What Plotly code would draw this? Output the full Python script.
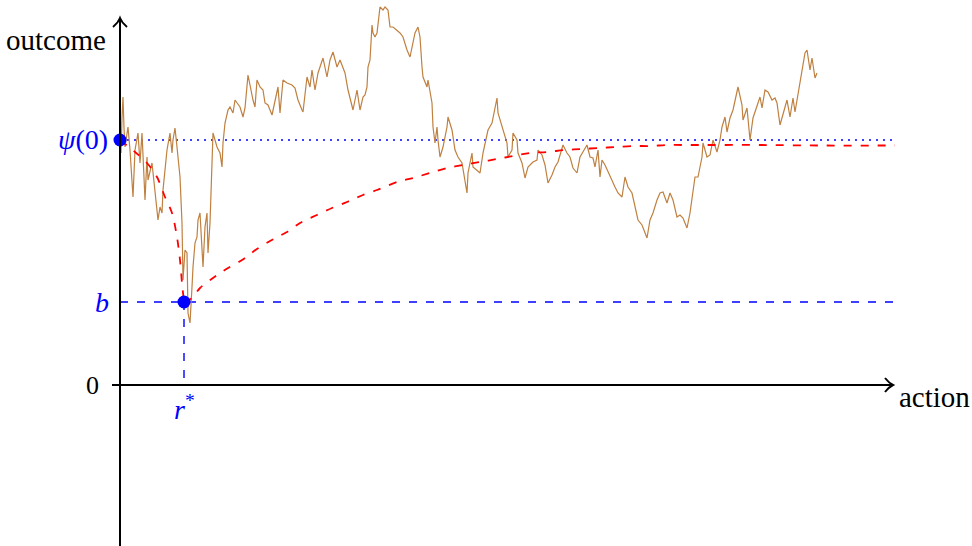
import plotly.graph_objects as go

# ---------------- data (action units, outcome units) ----------------
path_x = [0,1,2,3,4,5,8,10,13,15,18,20,22,25,27,28,32,35,38,40,42,43,47,50,52,53,55,57,60,62,
          63,65,67,68,70,72,73,75,77,78,80,83,85,87,88,90,92,93,97,100,102,103,105,108,110,113,115,117,120,123,
          125,128,132,133,135,137,140,143,145,148,152,155,158,160,163,167,172,175,178,182,183,187,190,192,195,198,203,207,210,213,
          217,220,225,228,230,233,237,240,243,245,247,248,250,252,253,255,257,260,263,265,268,270,273,277,280,283,287,290,292,295,
          298,300,302,303,307,308,312,313,315,317,318,320,323,327,328,332,335,338,342,343,347,348,352,353,357,360,363,367,368,372,
          375,377,378,382,383,387,388,392,393,397,398,402,405,408,413,417,418,422,425,428,432,435,438,442,443,447,450,453,457,460,
          463,467,470,473,475,478,480,482,485,488,492,495,498,502,505,508,512,515,518,522,525,527,530,533,537,540,543,547,550,553,
          557,560,563,567,570,572,575,578,582,583,587,590,593,597,600,602,605,607,610,613,615,618,622,623,627,628,630,633,637,640,
          642,645,648,652,655,657,660,663,667,670,673,675,678,680,682,685,687,690,692,695,697]
path_y = [243,232,267,288,257,238,258,235,188,235,252,222,252,185,228,205,222,195,165,178,172,195,235,252,232,245,257,238,208,162,
          105,135,132,72,62,98,118,142,148,165,172,118,158,172,132,162,218,252,238,232,218,242,262,275,278,272,285,282,278,268,
          277,310,288,285,278,305,298,295,282,280,270,285,298,272,305,302,300,297,285,275,273,308,298,315,295,312,327,308,325,333,
          318,325,312,295,287,275,295,275,288,290,298,318,325,360,352,348,352,378,375,378,375,358,358,355,352,348,335,328,338,352,
          358,348,318,308,298,305,282,258,242,258,245,228,238,258,268,255,235,228,222,215,192,212,232,218,215,212,232,252,255,262,
          278,287,272,258,255,242,228,235,252,245,232,222,207,218,223,225,235,230,220,202,210,218,223,235,240,232,228,217,212,228,
          233,240,228,227,218,235,208,225,220,213,205,198,192,188,208,198,192,178,165,160,152,147,165,172,185,192,193,182,192,185,
          168,170,167,157,172,187,208,208,228,242,228,230,245,233,245,258,268,253,267,275,285,298,280,265,277,265,245,267,278,288,
          277,295,293,285,287,282,260,272,285,268,287,273,292,302,315,332,335,315,327,307,312]

drop_x = [0, 15, 27, 37, 45, 52, 57, 60, 62, 64]
drop_y = [245, 233, 222, 208, 188, 172, 148, 125, 102, 83]
recover_x = [64, 72, 80, 93, 108, 122, 137, 150, 167, 180, 197, 212, 227, 243, 257, 277, 293, 310, 327, 343,
             360, 377, 393, 410, 427, 445, 462, 478, 497, 513, 530, 547, 563, 580, 640, 700, 775]
recover_y = [83, 87, 97, 107, 117, 125, 136, 144, 153, 162, 170, 177, 183, 190, 195, 203, 207, 212, 217, 220,
             223, 226, 229, 232, 233, 235, 236, 237, 238, 239, 239, 240, 240, 240, 240, 239.5, 239.5]

psi0 = 245
b_level = 83
r_star = 64
x_end = 775
x_label = "action"
y_label = "outcome"

BROWN = "#bf8040"
BLUE = "#0000ff"
RED = "#ff0000"
FONT = "Liberation Serif"

fig = go.Figure()

fig.add_trace(go.Scatter(x=[0, x_end - 2], y=[psi0, psi0], mode="lines",
                         line=dict(color=BLUE, width=1.5, dash="2px,5px"), hoverinfo="skip"))
fig.add_trace(go.Scatter(x=[0, x_end], y=[b_level, b_level], mode="lines",
                         line=dict(color=BLUE, width=1.4, dash="8px,9px"), hoverinfo="skip"))
fig.add_trace(go.Scatter(x=[r_star, r_star], y=[b_level, 0], mode="lines",
                         line=dict(color=BLUE, width=1.4, dash="8px,9px"), hoverinfo="skip"))

fig.add_trace(go.Scatter(x=path_x, y=path_y, mode="lines",
                         line=dict(color=BROWN, width=1.2), hoverinfo="skip"))

fig.add_trace(go.Scatter(x=drop_x, y=drop_y, mode="lines",
                         line=dict(color=RED, width=1.8, dash="8px,9px", shape="spline", smoothing=0.8),
                         hoverinfo="skip"))
fig.add_trace(go.Scatter(x=recover_x, y=recover_y, mode="lines",
                         line=dict(color=RED, width=1.8, dash="8px,9px", shape="spline", smoothing=0.8),
                         hoverinfo="skip"))

fig.add_trace(go.Scatter(x=[0, r_star], y=[psi0, b_level], mode="markers",
                         marker=dict(color=BLUE, size=13), hoverinfo="skip"))

shapes = [
    dict(type="line", xref="x", yref="y", x0=0, x1=0, y0=-175, y1=366,
         line=dict(color="black", width=2)),
    dict(type="line", xref="x", yref="y", x0=-8, x1=772, y0=0, y1=0,
         line=dict(color="black", width=2)),
    dict(type="path", xref="x", yref="y",
         path="M -7,358 Q -2,362 0,367 Q 2,362 7,358",
         line=dict(color="black", width=2)),
    dict(type="path", xref="x", yref="y",
         path="M 765,7 Q 769,2 773,0 Q 769,-2 765,-7",
         line=dict(color="black", width=2)),
]

annotations = [
    dict(x=-12, y=345, text=y_label, showarrow=False, xanchor="right", yanchor="middle",
         font=dict(family=FONT, size=29, color="black")),
    dict(x=777, y=-12, text=x_label, showarrow=False, xanchor="left", yanchor="middle",
         font=dict(family=FONT, size=29, color="black")),
    dict(x=-19, y=0, text="0", showarrow=False, xanchor="right", yanchor="middle",
         font=dict(family=FONT, size=26, color="black")),
    dict(x=-9, y=b_level, text="<i>b</i>", showarrow=False, xanchor="right", yanchor="middle",
         font=dict(family=FONT, size=28, color=BLUE)),
    dict(x=-10, y=psi0 + 1, text="<i>ψ</i>(0)", showarrow=False, xanchor="right", yanchor="middle",
         font=dict(family=FONT, size=28, color=BLUE)),
    dict(x=r_star, y=-22, text="<i>r</i><sup>*</sup>", showarrow=False, xanchor="center", yanchor="middle",
         font=dict(family=FONT, size=28, color=BLUE)),
]

fig.update_layout(
    width=972, height=546,
    margin=dict(l=0, r=0, t=0, b=0),
    paper_bgcolor="white", plot_bgcolor="white",
    showlegend=False,
    font=dict(family=FONT),
    xaxis=dict(range=[-120, 852], visible=False, fixedrange=True),
    yaxis=dict(range=[-161, 385], visible=False, fixedrange=True),
    shapes=shapes,
    annotations=annotations,
)

fig.write_html("out.html")
